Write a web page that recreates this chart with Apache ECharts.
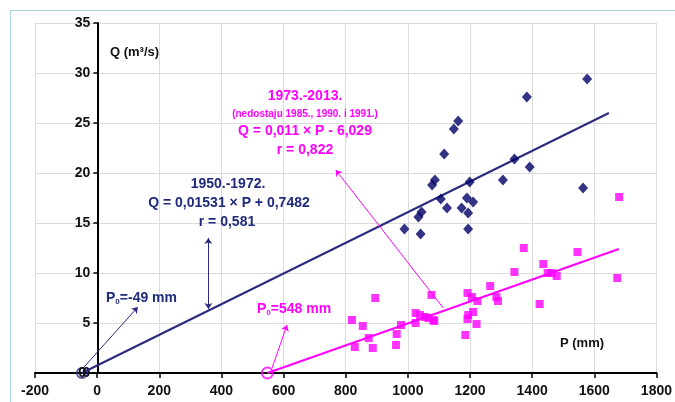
<!DOCTYPE html>
<html>
<head>
<meta charset="utf-8">
<title>Q - P</title>
<script src="https://cdn.jsdelivr.net/npm/echarts@6/dist/echarts.min.js"></script>
<style>
  html, body { margin: 0; padding: 0; background: #fff; }
  #chart { width: 675px; height: 402px; }
</style>
</head>
<body>
<div id="chart"></div>
<script>
// 1950.-1972. (P mm, Q m3/s)
var period1 = [
  [1577, 29.4], [1383, 27.6], [1162, 25.2], [1148, 24.4], [1117, 21.9],
  [1343, 21.4], [1392, 20.6], [1087, 19.3], [1078, 18.8], [1199, 19.1],
  [1306, 19.3], [1564, 18.5], [1106, 17.4], [1126, 16.5], [1190, 17.5],
  [1210, 17.1], [1173, 16.5], [1194, 16.0], [1044, 16.1], [1034, 15.6],
  [989, 14.4], [1041, 13.9], [1194, 14.4]
];
// 1973.-2013.
var period2 = [
  [1680, 17.6], [1373, 12.5], [1546, 12.1], [1343, 10.1], [1436, 10.9],
  [1450, 10.0], [1462, 10.0], [1479, 9.7], [1674, 9.5], [1265, 8.7],
  [1285, 7.6], [1290, 7.2], [1424, 6.9], [1076, 7.8], [895, 7.5],
  [1192, 8.0], [1206, 7.6], [1224, 7.2], [1025, 6.0], [1039, 5.8],
  [1055, 5.6], [1066, 5.5], [1085, 5.2], [1025, 5.0], [978, 4.8],
  [964, 3.9], [962, 2.8], [820, 5.3], [855, 4.7], [874, 3.5],
  [829, 2.6], [887, 2.5], [1210, 6.1], [1194, 5.8], [1192, 5.4],
  [1221, 4.9], [1185, 3.8], [1082, 5.3]
];
// regression lines (P0 -> end)
var fit1 = [[-49, 0], [1647, 26.0]];
var fit2 = [[548, 0], [1679, 12.4]];
// P0 points
var p0Blue = [[-49, 0]];
var p0Pink = [[548, 0]];
// annotation arrows, in data units
var arrowsBlue = [
  [[-45, 0.5], [131, 6.6]],
  [[358, 6.4], [358, 13.5]]
];
var arrowsPink = [
  [[563, 0.5], [611, 4.8]],
  [[1114, 6.5], [768, 20.3]]
];

var navy = '#000066';
var navyText = '#1f2a7c';
var pink = '#ff00ff';
var font = '"Liberation Sans", Arial, sans-serif';

var chart = echarts.init(document.getElementById('chart'));

function txt(x, y, s, color, size, align) {
  return {
    type: 'text', x: x, y: y, z: 100,
    style: {
      text: s, fill: color, font: 'bold ' + size + 'px ' + font,
      textAlign: align || 'left', textVerticalAlign: 'middle'
    }
  };
}
function subTxt(x, y, a, b, color) {
  return {
    type: 'text', x: x, y: y, z: 100,
    style: {
      text: '{m|' + a + '}{s|0}{m|' + b + '}',
      verticalAlign: 'middle',
      rich: {
        m: { fill: color, fontSize: 14, fontWeight: 'bold', fontFamily: font },
        s: { fill: color, fontSize: 8, fontWeight: 'bold', fontFamily: font, padding: [7, 0, 0, 0] }
      }
    }
  };
}

chart.setOption({
  animation: false,
  backgroundColor: '#fff',
  grid: { left: 35, right: 16, top: 23, bottom: 29, containLabel: false },
  xAxis: {
    type: 'value', min: -200, max: 1800, interval: 200,
    axisLine: { show: true, lineStyle: { color: '#000', width: 2 } },
    axisTick: { show: true, length: 5, lineStyle: { color: '#000', width: 1.5 } },
    axisLabel: {
      color: '#111', fontSize: 14, fontWeight: 'bold', fontFamily: font, margin: 11,
      showMinLabel: true, showMaxLabel: true,
      formatter: function (v) { return String(v); }
    },
    splitLine: { show: true, lineStyle: { color: '#dcdcdc', width: 1 } }
  },
  yAxis: {
    type: 'value', min: 0, max: 35, interval: 5, offset: -62.4,
    axisLine: { show: true, onZero: false, lineStyle: { color: '#000', width: 2 } },
    axisTick: { show: true, length: 4, lineStyle: { color: '#000', width: 1.5 } },
    axisLabel: {
      color: '#111', fontSize: 14, fontWeight: 'bold', fontFamily: font, margin: 7,
      showMinLabel: true, showMaxLabel: true, hideOverlap: false
    },
    splitLine: { show: true, lineStyle: { color: '#dcdcdc', width: 1 } }
  },
  graphic: [
    { type: 'rect', shape: { x: 10.5, y: 10.5, width: 720, height: 420 },
      style: { fill: 'none', stroke: '#a9d6de', lineWidth: 1 }, silent: true },
    // y-axis "0" label (hidden by the library where the axes cross)
    txt(86, 373, '0', '#111', 14, 'right'),
    txt(110, 52, 'Q (m³/s)', '#111', 13),
    txt(560, 343, 'P (mm)', '#111', 13),
    txt(228, 184, '1950.-1972.', navyText, 14, 'center'),
    txt(229, 203, 'Q = 0,01531 × P + 0,7482', navyText, 14, 'center'),
    txt(227, 222, 'r = 0,581', navyText, 14, 'center'),
    txt(305, 96, '1973.-2013.', pink, 14, 'center'),
    txt(305, 114, '(nedostaju 1985., 1990. i 1991.)', pink, 10, 'center'),
    txt(305, 131, 'Q = 0,011 × P - 6,029', pink, 14, 'center'),
    txt(305, 150, 'r = 0,822', pink, 14, 'center'),
    subTxt(106, 298, 'P', '=-49 mm', navyText),
    subTxt(257, 309, 'P', '=548 mm', pink)
  ],
  series: [
    {
      type: 'line', data: fit1, symbol: 'none', z: 3,
      lineStyle: { color: '#2a2a80', width: 2 }
    },
    {
      type: 'line', data: fit2, symbol: 'none', z: 3,
      lineStyle: { color: pink, width: 2 }
    },
    {
      type: 'scatter', data: period1, symbol: 'diamond', symbolSize: [10, 11], z: 5,
      itemStyle: { color: navy }
    },
    {
      type: 'scatter', data: period2, symbol: 'rect', symbolSize: 8, z: 5,
      itemStyle: { color: pink }
    },
    {
      type: 'scatter', data: p0Blue, symbol: 'circle', symbolSize: 10, z: 6,
      itemStyle: { color: 'rgba(0,0,0,0)', borderColor: '#2a2a80', borderWidth: 2 }
    },
    {
      type: 'scatter', data: p0Pink, symbol: 'circle', symbolSize: 11, z: 6,
      itemStyle: { color: 'rgba(0,0,0,0)', borderColor: pink, borderWidth: 2 }
    },
    {
      type: 'lines', coordinateSystem: 'cartesian2d', z: 4,
      symbol: ['none', 'arrow'], symbolSize: 6,
      lineStyle: { color: '#2a2a80', width: 1, opacity: 1 },
      data: arrowsBlue.map(function (c, i) {
        return i === 1 ? { coords: c, symbol: ['arrow', 'arrow'] } : { coords: c };
      })
    },
    {
      type: 'lines', coordinateSystem: 'cartesian2d', z: 4,
      symbol: ['none', 'arrow'], symbolSize: 6,
      lineStyle: { color: pink, width: 1, opacity: 1 },
      data: arrowsPink.map(function (c) { return { coords: c }; })
    }
  ]
});
</script>
</body>
</html>
